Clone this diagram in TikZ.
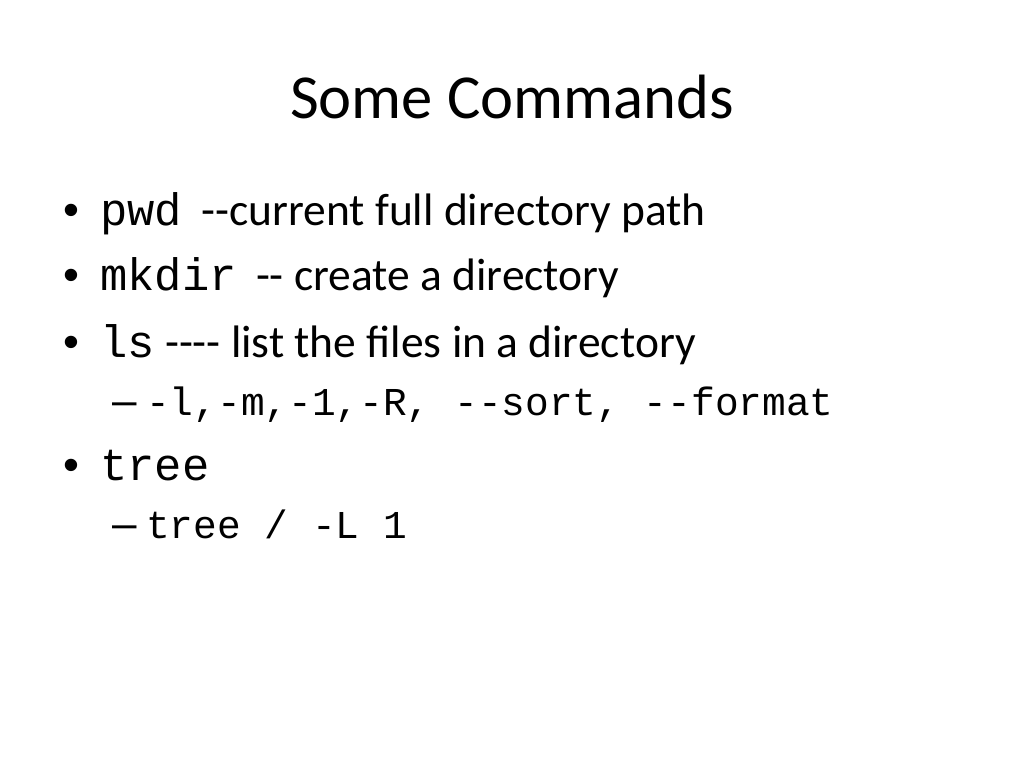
\documentclass[tikz,border=0pt]{standalone}
\usepackage{fontspec}
\setmainfont{Carlito}
\setmonofont{Liberation Mono}
\newfontfamily\markfont{Liberation Sans}
\usepackage{tikz}

\newcommand{\cmd}[1]{{\fontsize{45.5}{50}\selectfont\ttfamily #1}}
\newcommand{\subcmd}[1]{{\fontsize{39.5}{44}\selectfont\ttfamily #1}}

\tikzset{
  toptitle/.style={anchor=base, inner sep=0pt, font=\fontsize{62.6}{70}\selectfont},
  dot/.style={anchor=base west, inner sep=0pt, font=\markfont\fontsize{45.5}{50}\selectfont},
  entry/.style={anchor=base west, inner sep=0pt, font=\fontsize{45.5}{50}\selectfont},
  subdash/.style={anchor=base west, inner sep=0pt, font=\markfont\fontsize{44}{48}\selectfont}
}

\begin{document}
\begin{tikzpicture}[x=1pt, y=-1pt]
    \useasboundingbox[fill=white] (0,0) rectangle (1024,768);
    \node[toptitle] at (512,118) (T) {Some Commands};
    % first level
    \node[dot] at (63,225) (B1) {•};
    \node[entry] at (100,225) (L1) {\cmd{pwd}\hspace{9pt} -{}-current full directory path};
    \node[dot] at (63,290) (B2) {•};
    \node[entry] at (100,290) (L2) {\cmd{mkdir}\hspace{9pt} -{}- create a directory};
    \node[dot] at (63,357) (B3) {•};
    \node[entry] at (100,357) (L3) {\cmd{ls} -{}-{}-{}- list the files in a directory};
    % second level
    \node[subdash] at (112,415) (D1) {–};
    \node[entry] at (146,415) (S1) {\subcmd{-l,-m,-1,-R, --sort, --format}};
    \node[dot] at (63,480) (B4) {•};
    \node[entry] at (100,480) (L4) {\cmd{tree}};
    \node[subdash] at (112,538) (D2) {–};
    \node[entry] at (146,538) (S2) {\subcmd{tree / -L 1}};
\end{tikzpicture}
\end{document}
